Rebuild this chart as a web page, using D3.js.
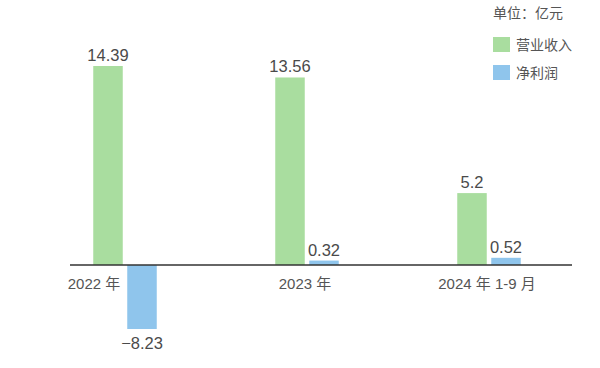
<!DOCTYPE html>
<html><head><meta charset="utf-8">
<script src="https://cdn.jsdelivr.net/npm/d3@7/dist/d3.min.js"></script>
<style>
html,body{margin:0;padding:0;background:#fff;}
svg{display:block;font-family:"Liberation Sans","Noto Sans CJK SC",sans-serif;}
</style></head>
<body><svg id="c" width="600" height="368"></svg>
<script>
const categories = ["2022 年", "2023 年", "2024 年 1-9 月"];
const seriesNames = ["营业收入", "净利润"];
const revenue = [14.39, 13.56, 5.2];
const netProfit = [-8.23, 0.32, 0.52];
const revenueLabels = ["14.39", "13.56", "5.2"];
const profitLabels = ["−8.23", "0.32", "0.52"];
const unitLabel = "单位：亿元";

const colors = ["#a9dd9f", "#8fc5ec"];
const textColor = "#555";
const svg = d3.select("#c");

const all = revenue.concat(netProfit);
const y = d3.scaleLinear()
  .domain([d3.min(all), 0, d3.max(all)])
  .range([329, 265, 66]);

const x0 = d3.scalePoint().domain(categories).range([125, 489]);
const barW = 29.5, gap = 4.5;
const x1 = d3.scaleOrdinal().domain(seriesNames).range([-barW - gap/2, gap/2]);

const series = [revenue, netProfit];
const labels = [revenueLabels, profitLabels];

series.forEach((vals, s) => {
  const g = svg.append("g");
  g.selectAll("rect").data(vals).join("rect")
    .attr("x", (d, i) => x0(categories[i]) + x1(seriesNames[s]))
    .attr("width", barW)
    .attr("y", d => Math.min(y(d), y(0)))
    .attr("height", d => Math.abs(y(d) - y(0)))
    .attr("fill", colors[s]);
  g.selectAll("text").data(vals).join("text")
    .attr("x", (d, i) => x0(categories[i]) + x1(seriesNames[s]) + barW/2)
    .attr("y", d => d >= 0 ? y(d) - 5 : y(d) + 20)
    .attr("text-anchor", "middle")
    .attr("font-size", 16.5)
    .attr("fill", "#4a4a4a")
    .text((d, i) => labels[s][i]);
});

// axis line
svg.append("line")
  .attr("x1", 70).attr("x2", 572)
  .attr("y1", y(0)).attr("y2", y(0))
  .attr("stroke", "#333").attr("stroke-width", 1.6);

// category labels
svg.append("g").selectAll("text").data(categories).join("text")
  .attr("x", (c, i) => netProfit[i] < 0
      ? x0(c) + x1(seriesNames[1]) - 7
      : x0(c) - 2)
  .attr("text-anchor", (c, i) => netProfit[i] < 0 ? "end" : "middle")
  .attr("y", y(0) + 24)
  .attr("font-size", 15)
  .attr("fill", textColor)
  .text(c => c);

// legend
svg.append("text").attr("x", 493).attr("y", 18)
  .attr("font-size", 14).attr("fill", textColor).text(unitLabel);
const lg = svg.append("g").selectAll("g").data(seriesNames).join("g")
  .attr("transform", (d, i) => `translate(493,${37 + i * 28})`);
lg.append("rect").attr("width", 17).attr("height", 15)
  .attr("fill", (d, i) => colors[i]);
lg.append("text").attr("x", 23).attr("y", 12.5)
  .attr("font-size", 14).attr("fill", textColor).text(d => d);
</script></body></html>
